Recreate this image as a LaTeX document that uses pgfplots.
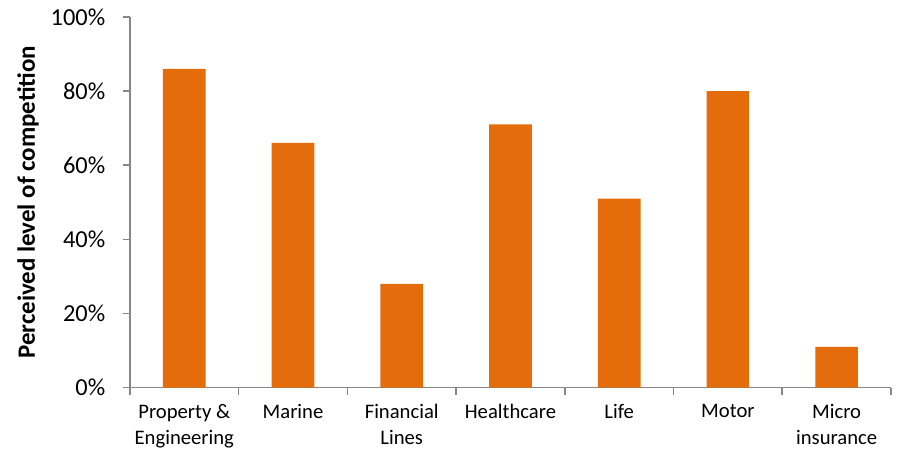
\documentclass[border=0pt]{standalone}
\usepackage{fontspec}
\setmainfont{Carlito}
\usepackage{pgfplots}
\pgfplotsset{compat=1.18}
\definecolor{barorange}{HTML}{E46C0A}
\definecolor{axisgray}{HTML}{868686}
\begin{document}
\begin{tikzpicture}
\begin{axis}[
  scale only axis,
  width=571pt, height=278pt,
  xmin=-0.5, xmax=6.5,
  ymin=0, ymax=100,
  axis lines*=left,
  axis line style={draw=axisgray, line width=1.2pt, -},
  xtick={-0.5,0.5,1.5,2.5,3.5,4.5,5.5,6.5},
  xticklabels={},
  extra x ticks={0,1,2,3,4,5,6},
  extra x tick labels={{Property \&\\Engineering},{Marine},{Financial\\Lines},{Healthcare},{Life},{Motor},{Micro\\insurance}},
  extra x tick style={major tick length=0pt, tick style={draw=none}},
  xticklabel style={align=center, font=\fontsize{15.5}{19.5}\selectfont, text=black, yshift=-9pt},
  ytick={0,20,40,60,80,100},
  yticklabel={\pgfmathprintnumber{\tick}\%},
  yticklabel style={font=\fontsize{18.3}{22}\selectfont, text=black, xshift=-9.5pt},
  /pgf/number format/assume math mode=true,
  major tick length=5.5pt,
  tick align=outside,
  tick style={draw=axisgray, line width=1.2pt},
  ylabel={\bfseries Perceived level of competition},
  ylabel style={at={(axis description cs:-0.134,0.5)}, anchor=center, font=\fontsize{18.7}{22}\selectfont},
  clip=false,
]
\addplot[ybar, bar width=32pt, fill=barorange, draw=none] coordinates {
  (0,86) (1,66) (2,28) (3,71) (4,51) (5,80) (6,11)
};
\end{axis}
\pgfresetboundingbox
\path (-97.5pt,-47.25pt) rectangle (577pt,290.75pt);
\end{tikzpicture}
\end{document}
